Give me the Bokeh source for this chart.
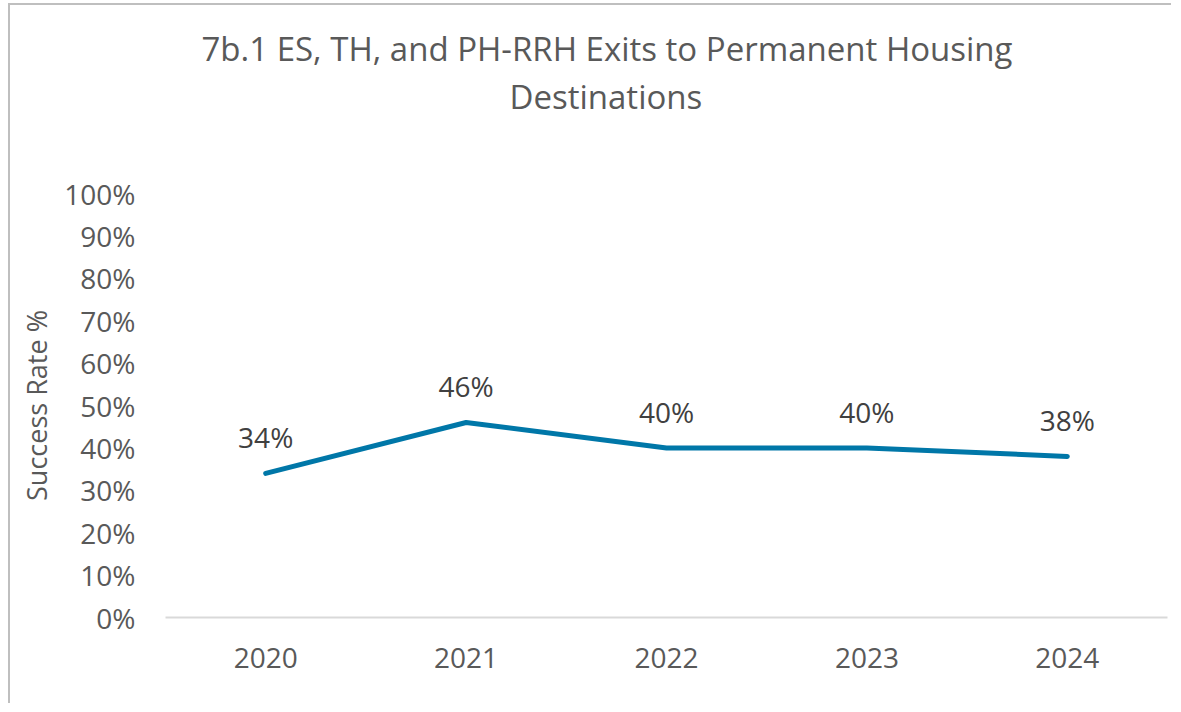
from bokeh.plotting import figure
from bokeh.models import (ColumnDataSource, FactorRange, Range1d, FixedTicker,
                          NumeralTickFormatter, LabelSet, Title)
from bokeh.core.properties import value
from bokeh.embed import file_html
from bokeh.resources import INLINE

years = ["2020", "2021", "2022", "2023", "2024"]
success_rate = [0.34, 0.46, 0.40, 0.40, 0.38]
rate_labels = ["34%", "46%", "40%", "40%", "38%"]
y_ticks = [0.0, 0.1, 0.2, 0.3, 0.4, 0.5, 0.6, 0.7, 0.8, 0.9, 1.0]
title_lines = ["7b.1 ES, TH, and PH-RRH Exits to Permanent Housing", "Destinations"]

FONT = "Open Sans"
GREY = "#595959"

src = ColumnDataSource(dict(year=years, rate=success_rate, label=rate_labels))

p = figure(x_range=FactorRange(*years, range_padding=0, factor_padding=0),
           y_range=Range1d(0, 1),
           width=1163, height=700,
           min_border_left=155, min_border_right=6,
           min_border_top=188, min_border_bottom=88,
           output_backend="svg", toolbar_location=None)
p.title = None
p.margin = (3, 0, 0, 8)
p.styles = {"border-left": "2px solid #bfbfbf", "border-top": "2px solid #bfbfbf"}
p.outline_line_color = None
p.background_fill_color = "white"
p.border_fill_color = "white"

# panels stack outward from the frame: spacer, second line, first line
p.add_layout(Title(text=" ", align="left", standoff=28,
                   text_font=FONT, text_font_size="33px", text_color=GREY), "above")
p.add_layout(Title(text=title_lines[1], align="left", offset=344, standoff=0,
                   vertical_align="bottom",
                   text_font=FONT, text_font_size="33px", text_font_style="normal",
                   text_color=GREY), "above")
p.add_layout(Title(text=title_lines[0], align="left", offset=36, standoff=2,
                   vertical_align="bottom",
                   text_font=FONT, text_font_size="33px", text_font_style="normal",
                   text_color=GREY), "above")

p.line(x="year", y="rate", source=src, line_color="#0077A8", line_width=5,
       line_cap="round", line_join="round")

labels = LabelSet(x="year", y="rate", text="label", source=src,
                  text_align="center", text_baseline="middle", y_offset=36,
                  text_font=value(FONT), text_font_size=value("28px"),
                  text_color="#404040")
p.add_layout(labels)

p.xgrid.grid_line_color = None
p.ygrid.grid_line_color = None

p.xaxis.axis_line_color = "#d9d9d9"
p.xaxis.axis_line_width = 2
p.xaxis.major_tick_line_color = None
p.xaxis.minor_tick_line_color = None
p.xaxis.major_label_text_font = FONT
p.xaxis.major_label_text_font_size = "28px"
p.xaxis.major_label_text_color = GREY
p.xaxis.major_label_standoff = 24

p.yaxis.ticker = FixedTicker(ticks=y_ticks)
p.yaxis.formatter = NumeralTickFormatter(format="0%")
p.yaxis.axis_line_color = None
p.yaxis.major_tick_line_color = None
p.yaxis.minor_tick_line_color = None
p.yaxis.major_label_text_font = FONT
p.yaxis.major_label_text_font_size = "28px"
p.yaxis.major_label_text_color = GREY
p.yaxis.major_label_standoff = 24
p.yaxis.axis_label = "Success Rate %"
p.yaxis.axis_label_text_font = FONT
p.yaxis.axis_label_text_font_size = "27px"
p.yaxis.axis_label_text_font_style = "normal"
p.yaxis.axis_label_text_color = GREY
p.yaxis.axis_label_standoff = 6

open("out.html", "w").write(file_html(p, INLINE))
